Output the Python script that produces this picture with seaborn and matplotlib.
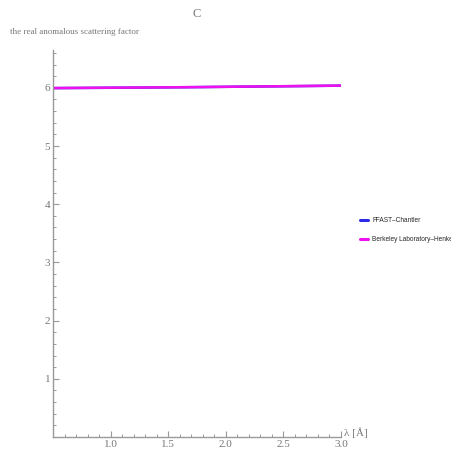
import numpy as np
import pandas as pd
import matplotlib
matplotlib.use("Agg")
import matplotlib.pyplot as plt
import seaborn as sns
from matplotlib.ticker import MultipleLocator, FixedLocator

# === Data ===
wavelength = [0.5, 0.75, 1.0, 1.25, 1.5, 1.75, 2.0, 2.25, 2.5, 2.75, 3.0]
ffast = [5.995, 5.998, 6.001, 6.004, 6.008, 6.012, 6.017, 6.022, 6.027, 6.032, 6.037]
henke = [5.996, 5.999, 6.002, 6.005, 6.009, 6.013, 6.018, 6.023, 6.028, 6.033, 6.038]
series_names = ["FFAST\u2013Chantler", "Berkeley Laboratory\u2013Henke"]

df = pd.concat([
    pd.DataFrame({"wavelength": wavelength, "f": ffast, "source": series_names[0]}),
    pd.DataFrame({"wavelength": wavelength, "f": henke, "source": series_names[1]}),
])

sns.set_style("white")
plt.rcParams['font.family'] = ['Liberation Serif', 'DejaVu Serif']

fig = plt.figure(figsize=(4.52, 4.55), dpi=100)
ax = fig.add_axes([53 / 452, 18 / 455, (341 - 53) / 452, (437 - 50) / 455])

sns.lineplot(data=df, x="wavelength", y="f", hue="source",
             palette=["#2a2ae8", "#ee11ee"], linewidth=1.8, ax=ax, legend=False)

ax.set_xlim(0.5, 3.0)
ax.set_ylim(0, 6.65)

gray = "#999999"
for side in ["top", "right"]:
    ax.spines[side].set_visible(False)
for side in ["left", "bottom"]:
    ax.spines[side].set_color(gray)
    ax.spines[side].set_linewidth(1.0)

ax.xaxis.set_major_locator(FixedLocator([1.0, 1.5, 2.0, 2.5, 3.0]))
ax.xaxis.set_minor_locator(MultipleLocator(0.1))
ax.yaxis.set_major_locator(FixedLocator([1, 2, 3, 4, 5, 6]))
ax.yaxis.set_minor_locator(MultipleLocator(0.2))
ax.tick_params(axis="both", which="both", bottom=True, left=True, top=False, right=False)
ax.tick_params(axis="both", which="major", direction="in", length=4, width=0.8,
               color=gray, labelcolor="#777777", labelsize=8, pad=2)
ax.tick_params(axis="both", which="minor", direction="in", length=2.5, width=0.7,
               color=gray)
ax.set_xticklabels(["1.0", "1.5", "2.0", "2.5", "3.0"])
ax.set_yticklabels(["1", "2", "3", "4", "5", "6"])
ax.set_xlabel("")
ax.set_ylabel("")

fig.text(344 / 452, 1 - 433 / 455, "\u03bb [\u00c5]", fontsize=8, color="#777777",
         ha="left", va="center")
fig.text(10 / 452, 1 - 32 / 455, "the real anomalous scattering factor", fontsize=6.5,
         color="#777777", ha="left", va="center")
fig.text(197 / 452, 1 - 14 / 455, "C", fontsize=9, color="#777777", ha="center", va="center")

# legend outside to the right
handles = [plt.Line2D([], [], color="#2a2ae8", linewidth=2.2),
           plt.Line2D([], [], color="#ee11ee", linewidth=2.2)]
leg = fig.legend(handles, series_names, loc="center left",
                 bbox_to_anchor=(354 / 452, 1 - 230 / 455), frameon=False,
                 handlelength=1.3, handletextpad=0.6, labelspacing=1.9,
                 prop={"family": "Liberation Sans", "size": 4.7})

fig.savefig("out.png", dpi=100)
